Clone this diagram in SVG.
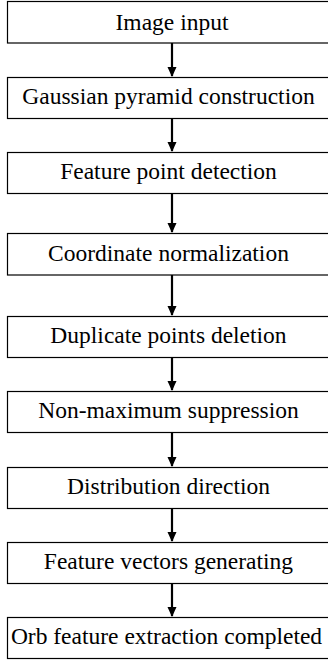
<svg xmlns="http://www.w3.org/2000/svg" width="328" height="660" viewBox="0 0 328 660">
<style>
.box{fill:#fff;stroke:#000;stroke-width:1.2}
.lbl{font-family:'Liberation Serif','DejaVu Serif','Times New Roman',serif;font-size:23.5px;fill:#000;text-anchor:middle}
.arr{stroke:#000;stroke-width:2.2;fill:none}
</style>
<defs>
<marker id="ah" markerWidth="10" markerHeight="10" refX="9" refY="5" orient="auto" markerUnits="userSpaceOnUse">
<path d="M0,0.5 L10,5 L0,9.5 Z" fill="#000"/>
</marker>
</defs>
<rect width="328" height="660" fill="#fff"/>
<g id="connectors">
<line class="arr" x1="172" y1="43" x2="172" y2="76" marker-end="url(#ah)"/>
<line class="arr" x1="172" y1="118" x2="172" y2="151" marker-end="url(#ah)"/>
<line class="arr" x1="172" y1="193" x2="172" y2="232" marker-end="url(#ah)"/>
<line class="arr" x1="172" y1="275" x2="172" y2="315" marker-end="url(#ah)"/>
<line class="arr" x1="172" y1="357" x2="172" y2="390" marker-end="url(#ah)"/>
<line class="arr" x1="172" y1="432" x2="172" y2="466" marker-end="url(#ah)"/>
<line class="arr" x1="172" y1="508" x2="172" y2="541" marker-end="url(#ah)"/>
<line class="arr" x1="172" y1="583" x2="172" y2="616" marker-end="url(#ah)"/>
</g>
<g id="n1"><rect class="box" x="7.5" y="1.5" width="330" height="41.5"/><text class="lbl" font-family="Liberation Serif, serif" x="172" y="30">Image input</text></g>
<g id="n2"><rect class="box" x="7.5" y="77.5" width="330" height="41"/><text class="lbl" font-family="Liberation Serif, serif" x="168.5" y="104">Gaussian pyramid construction</text></g>
<g id="n3"><rect class="box" x="7.5" y="152.5" width="330" height="41"/><text class="lbl" font-family="Liberation Serif, serif" x="168.5" y="179">Feature point detection</text></g>
<g id="n4"><rect class="box" x="7.5" y="233.5" width="330" height="41.5"/><text class="lbl" font-family="Liberation Serif, serif" x="168.5" y="261">Coordinate normalization</text></g>
<g id="n5"><rect class="box" x="7.5" y="316.5" width="330" height="41"/><text class="lbl" font-family="Liberation Serif, serif" x="168.5" y="343">Duplicate points deletion</text></g>
<g id="n6"><rect class="box" x="7.5" y="391.5" width="330" height="41"/><text class="lbl" font-family="Liberation Serif, serif" x="168.5" y="418">Non-maximum suppression</text></g>
<g id="n7"><rect class="box" x="7.5" y="467.5" width="330" height="41"/><text class="lbl" font-family="Liberation Serif, serif" x="168.5" y="494">Distribution direction</text></g>
<g id="n8"><rect class="box" x="7.5" y="542.5" width="330" height="41"/><text class="lbl" font-family="Liberation Serif, serif" x="168.5" y="569">Feature vectors generating</text></g>
<g id="n9"><rect class="box" x="7.5" y="617.5" width="330" height="41"/><text class="lbl" font-family="Liberation Serif, serif" x="166.5" y="644">Orb feature extraction completed</text></g>
</svg>
